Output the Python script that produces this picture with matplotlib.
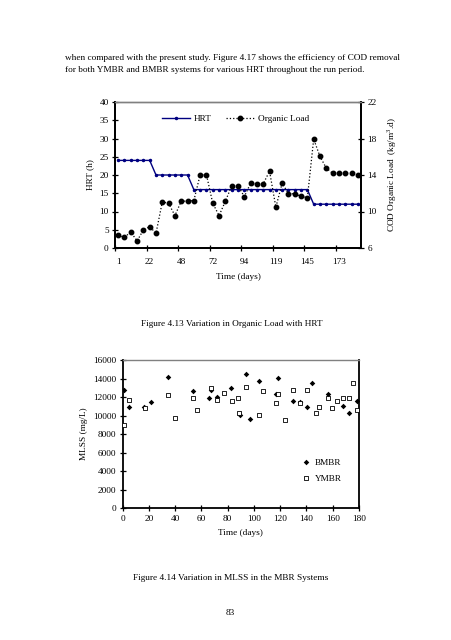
import numpy as np
import matplotlib
matplotlib.use("Agg")
import matplotlib.pyplot as plt
from matplotlib.lines import Line2D

plt.rcParams["font.family"] = ["Liberation Serif", "DejaVu Serif"]
plt.rcParams["mathtext.fontset"] = "custom"
plt.rcParams["mathtext.rm"] = "Liberation Serif"

# =============================================================================
#  Data
# =============================================================================

# Figure 4.13: one point per sampling, category axis
hrt = [24] * 6 + [20] * 6 + [16] * 19 + [12] * 8
organic_load = [
    7.39, 7.17, 7.76, 6.77, 7.98, 8.34, 7.61, 11.05, 10.9, 9.55,
    11.13, 11.13, 11.2, 14.02, 14.02, 10.9, 9.55, 11.13, 12.81, 12.81,
    11.63, 13.1, 13.03, 13.03, 14.42, 10.47, 13.1, 11.96, 11.93, 11.68,
    11.52, 17.93, 16.03, 14.75, 14.2, 14.2, 14.17, 14.2, 13.98,
]
day_labels = ["1", "22", "48", "72", "94", "119", "145", "173"]

# Figure 4.14: MLSS
bmbr_days = [1.0, 5.0, 16, 21.8, 34.7, 53.8, 65.7, 67.5, 71.6, 82.5, 89.6, 93.7,
             96.7, 103.6, 116.8, 118.3, 129.5, 135.3, 140.4, 144.4, 156.1, 168,
             172.1, 178.2]
bmbr_mlss = [12800, 10960, 10930, 11440, 14200, 12620, 11900, 12730, 12010, 13010,
             10070, 14460, 9670, 13740, 12370, 14090, 11610, 11500, 10930, 13550,
             12370, 11040, 10280, 11610]
ymbr_days = [1.2, 5.0, 17.2, 34.7, 39.8, 53.8, 56.8, 67.5, 71.6, 77.4, 83.5, 87.6,
             88.8, 93.7, 103.6, 106.6, 116.5, 118.5, 123.4, 129.5, 135.3, 140.4,
             147.5, 149.3, 156.1, 159.2, 163, 168, 172.1, 175.2, 178.2]
ymbr_mlss = [8960, 11650, 10790, 12190, 9710, 11870, 10570, 13010, 11690, 12440,
             11610, 11930, 10320, 13090, 10040, 12620, 11390, 12300, 9530, 12730,
             11390, 12730, 10250, 10900, 11870, 10860, 11580, 11870, 11870, 13520,
             10610]

FS = 6.7
W, H = 452, 640

fig = plt.figure(figsize=(W / 100, H / 100), dpi=100)


def style_axes(ax):
    for side in ("left", "bottom", "right"):
        ax.spines[side].set_linewidth(1.3)
        ax.spines[side].set_color("black")
    ax.spines["top"].set_color("#808080")
    ax.spines["top"].set_linewidth(1.0)
    ax.tick_params(direction="inout", length=5, width=0.9, labelsize=FS, pad=2)


# =============================================================================
#  Page text
# =============================================================================

fig.text(65 / W, 1 - 58 / H,
         "when compared with the present study. Figure 4.17 shows the efficiency of COD removal",
         fontsize=FS, va="center", ha="left")
fig.text(65 / W, 1 - 69.5 / H,
         "for both YMBR and BMBR systems for various HRT throughout the run period.",
         fontsize=FS, va="center", ha="left")

# =============================================================================
#  Figure 4.13
# =============================================================================

ax1 = fig.add_axes([115 / W, 1 - 248 / H, 246 / W, 146 / H])
x = np.arange(len(hrt))
ax1.plot(x, hrt, color="#000080", lw=1.0, marker="o", ms=1.5, label="HRT")
ax1.set_xlim(-0.5, len(hrt) - 0.5)
ax1.set_ylim(0, 40)
ax1.set_yticks(np.arange(0, 41, 5))
ax1.set_xticks(np.arange(-0.5, len(hrt), 5))
ax1.set_xticklabels([])
ax1.set_xticks(np.arange(0, len(hrt), 5), labels=day_labels, minor=True)
ax1.tick_params(axis="x", which="minor", length=0, labelsize=FS, pad=7)
style_axes(ax1)
ax1.set_ylabel("HRT (h)", fontsize=FS, labelpad=4)
ax1.set_xlabel("Time (days)", fontsize=FS, labelpad=5)

ax2 = ax1.twinx()
ax2.plot(x, organic_load, color="black", lw=0.9, ls=":", marker="o", ms=3.2,
         label="Organic Load")
ax2.set_ylim(6, 22)
ax2.set_yticks([6, 10, 14, 18, 22])
style_axes(ax2)
ax2.set_ylabel("COD Organic Load  (kg/m$^3$.d)", fontsize=FS, labelpad=6)

handles = [
    Line2D([], [], color="#000080", lw=1.0, marker="o", ms=1.5),
    Line2D([], [], color="black", lw=0.9, ls=":", marker="o", ms=3.2),
]
ax1.legend(handles, ["HRT", "Organic Load"], loc="upper center", ncol=2,
           frameon=False, fontsize=FS, bbox_to_anchor=(0.49, 0.97),
           handlelength=3.0, columnspacing=1.6, handletextpad=0.4)

fig.text(232 / W, 1 - 324 / H, "Figure 4.13 Variation in Organic Load with HRT",
         fontsize=FS, ha="center", va="center")

# =============================================================================
#  Figure 4.14
# =============================================================================

ax3 = fig.add_axes([122.7 / W, 1 - 508.3 / H, 236.3 / W, 148.3 / H])
ax3.scatter(bmbr_days, bmbr_mlss, marker="D", s=8, color="black", lw=0,
            label="BMBR", zorder=3)
ax3.scatter(ymbr_days, ymbr_mlss, marker="s", s=12, facecolors="white",
            edgecolors="black", lw=0.6, label="YMBR", zorder=3)
ax3.set_xlim(0, 180)
ax3.set_ylim(0, 16000)
ax3.set_xticks(np.arange(0, 181, 20))
ax3.set_yticks(np.arange(0, 16001, 2000))
style_axes(ax3)
ax3.set_ylabel("MLSS (mg/L)", fontsize=FS, labelpad=4)
ax3.set_xlabel("Time (days)", fontsize=FS, labelpad=5)
ax3.legend(loc="lower right", bbox_to_anchor=(0.955, 0.13), frameon=False,
           fontsize=FS, handletextpad=0.0, labelspacing=0.8, borderpad=0.2)

fig.text(231 / W, 1 - 578 / H, "Figure 4.14 Variation in MLSS in the MBR Systems",
         fontsize=FS, ha="center", va="center")
fig.text(230 / W, 1 - 613 / H, "83", fontsize=FS, ha="center", va="center")

fig.savefig("out.png", dpi=100)
